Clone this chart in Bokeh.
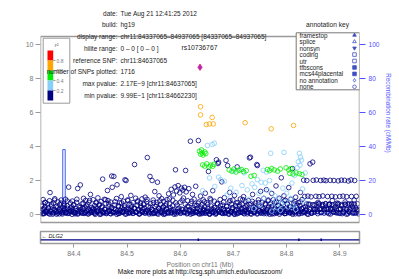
import math
from bokeh.plotting import figure
from bokeh.models import Range1d, LinearAxis, Label, FixedTicker
from bokeh.layouts import column
from bokeh.embed import file_html
from bokeh.resources import INLINE

# ---------------- data ----------------
X0, X1 = 84.337065, 84.937065
x_ticks = [84.4, 84.5, 84.6, 84.7, 84.8, 84.9]
y_ticks = [0, 2, 4, 6, 8, 10]
recomb_ticks = [0, 20, 40, 60, 80, 100]

navy_pos = [
    84.338, 84.339, 84.341, 84.342, 84.344, 84.345, 84.346, 84.348, 84.350, 84.351,
    84.352, 84.354, 84.355, 84.357, 84.358, 84.360, 84.361, 84.363, 84.364, 84.366,
    84.367, 84.369, 84.370, 84.372, 84.373, 84.375, 84.376, 84.378, 84.379, 84.381,
    84.382, 84.384, 84.385, 84.387, 84.388, 84.390, 84.391, 84.393, 84.394, 84.396,
    84.397, 84.399, 84.400, 84.402, 84.403, 84.405, 84.407, 84.408, 84.410, 84.412,
    84.413, 84.415, 84.416, 84.418, 84.419, 84.421, 84.422, 84.424, 84.425, 84.427,
    84.428, 84.430, 84.431, 84.433, 84.434, 84.436, 84.437, 84.439, 84.440, 84.442,
    84.443, 84.445, 84.446, 84.448, 84.449, 84.451, 84.452, 84.454, 84.455, 84.457,
    84.458, 84.460, 84.461, 84.463, 84.464, 84.466, 84.467, 84.469, 84.470, 84.471,
    84.472, 84.474, 84.475, 84.477, 84.478, 84.480, 84.481, 84.483, 84.484, 84.486,
    84.487, 84.489, 84.490, 84.492, 84.493, 84.495, 84.496, 84.498, 84.499, 84.501,
    84.502, 84.504, 84.505, 84.507, 84.508, 84.510, 84.511, 84.513, 84.514, 84.516,
    84.517, 84.519, 84.520, 84.522, 84.523, 84.525, 84.526, 84.528, 84.529, 84.531,
    84.532, 84.534, 84.535, 84.537, 84.538, 84.540, 84.541, 84.543, 84.544, 84.546,
    84.547, 84.549, 84.550, 84.552, 84.553, 84.555, 84.556, 84.557, 84.559, 84.560,
    84.562, 84.563, 84.565, 84.566, 84.568, 84.569, 84.571, 84.572, 84.574, 84.575,
    84.577, 84.578, 84.580, 84.581, 84.583, 84.584, 84.586, 84.587, 84.589, 84.590,
    84.591, 84.593, 84.594, 84.596, 84.597, 84.599, 84.600, 84.602, 84.603, 84.605,
    84.606, 84.608, 84.609, 84.610, 84.611, 84.613, 84.614, 84.616, 84.617, 84.619,
    84.620, 84.622, 84.623, 84.625, 84.626, 84.628, 84.629, 84.631, 84.632, 84.634,
    84.635, 84.637, 84.638, 84.640, 84.641, 84.643, 84.644, 84.646, 84.647, 84.649,
    84.650, 84.652, 84.653, 84.655, 84.656, 84.658, 84.659, 84.661, 84.662, 84.664,
    84.665, 84.667, 84.668, 84.670, 84.671, 84.672, 84.674, 84.675, 84.677, 84.678,
    84.680, 84.681, 84.683, 84.684, 84.686, 84.687, 84.689, 84.690, 84.692, 84.693,
    84.695, 84.696, 84.698, 84.699, 84.701, 84.702, 84.704, 84.705, 84.707, 84.708,
    84.710, 84.711, 84.713, 84.714, 84.716, 84.717, 84.719, 84.720, 84.722, 84.723,
    84.725, 84.726, 84.728, 84.729, 84.730, 84.732, 84.733, 84.735, 84.736, 84.738,
    84.739, 84.741, 84.742, 84.744, 84.745, 84.747, 84.748, 84.750, 84.751, 84.753,
    84.754, 84.756, 84.757, 84.759, 84.760, 84.762, 84.763, 84.765, 84.766, 84.768,
    84.769, 84.771, 84.772, 84.774, 84.775, 84.777, 84.778, 84.780, 84.781, 84.783,
    84.784, 84.786, 84.787, 84.789, 84.790, 84.792, 84.793, 84.795, 84.796, 84.798,
    84.799, 84.801, 84.802, 84.804, 84.805, 84.807, 84.808, 84.810, 84.811, 84.813,
    84.814, 84.816, 84.817, 84.819, 84.820, 84.822, 84.823, 84.825, 84.826, 84.828,
    84.829, 84.831, 84.832, 84.834, 84.835, 84.837, 84.838, 84.840, 84.841, 84.843,
    84.844, 84.846, 84.847, 84.849, 84.850, 84.852, 84.853, 84.855, 84.856, 84.858,
    84.859, 84.861, 84.862, 84.864, 84.865, 84.867, 84.868, 84.870, 84.871, 84.873,
    84.874, 84.876, 84.877, 84.879, 84.880, 84.882, 84.883, 84.885, 84.886, 84.888,
    84.889, 84.891, 84.892, 84.894, 84.895, 84.897, 84.898, 84.900, 84.901, 84.903,
    84.904, 84.906, 84.907, 84.909, 84.910, 84.912, 84.913, 84.915, 84.916, 84.918,
    84.919, 84.921, 84.922, 84.924, 84.925, 84.927, 84.928, 84.930, 84.931, 84.934,
]
navy_logp = [
    0.12, 0.55, 0.31, 0.88, 0.05, 0.42, 0.70, 0.21, 0.63, 0.09,
    0.37, 0.81, 1.29, 0.18, 0.50, 0.02, 0.66, 0.29, 0.93, 0.14,
    0.47, 0.08, 0.74, 0.33, 0.58, 0.19, 0.85, 0.03, 0.40, 0.61,
    0.25, 0.90, 0.11, 0.52, 0.36, 1.61, 0.07, 0.68, 0.22, 0.45,
    0.79, 0.16, 0.57, 0.04, 0.34, 0.71, 1.53, 0.27, 0.49, 1.74,
    0.13, 0.62, 0.38, 0.95, 0.06, 0.44, 0.83, 0.20, 0.59, 0.30,
    0.72, 0.10, 1.18, 0.41, 0.26, 0.87, 0.15, 0.53, 0.01, 0.67,
    0.35, 0.98, 0.23, 0.60, 0.09, 0.76, 0.43, 2.08, 0.17, 0.89,
    0.31, 0.64, 0.05, 1.41, 0.82, 0.48, 0.19, 0.73, 0.37, 2.26,
    1.60, 0.12, 2.24, 0.56, 0.28, 0.94, 1.75, 0.07, 0.46, 0.69,
    0.21, 1.05, 0.39, 0.14, 0.78, 0.52, 2.04, 2.00, 0.33, 0.86,
    0.08, 0.61, 0.27, 1.12, 0.44, 0.18, 0.70, 0.35, 2.94, 0.96,
    0.13, 0.54, 0.80, 0.29, 0.04, 0.67, 0.41, 0.92, 0.16, 0.58,
    0.36, 1.02, 0.22, 0.75, 3.35, 0.49, 0.10, 2.24, 0.63, 0.30,
    2.00, 0.85, 0.06, 1.35, 0.47, 0.19, 0.71, 1.90, 0.38, 1.10,
    0.26, 0.59, 0.93, 0.11, 0.44, 0.77, 0.03, 0.51, 0.34, 0.88,
    0.15, 1.22, 0.62, 0.40, 1.48, 0.24, 0.83, 1.15, 0.09, 1.62,
    2.63, 1.38, 0.55, 1.70, 0.18, 1.27, 0.72, 1.55, 0.31, 1.44,
    0.97, 1.60, 0.12, 2.59, 1.33, 0.46, 0.81, 1.52, 0.28, 4.31,
    0.65, 0.07, 1.18, 0.39, 0.90, 0.20, 1.66, 0.53, 0.14, 4.35,
    0.74, 0.32, 1.08, 0.05, 0.58, 0.86, 0.23, 0.45, 1.25, 0.11,
    0.69, 0.37, 2.53, 0.02, 0.94, 0.50, 0.17, 1.40, 0.29, 0.78,
    0.43, 0.08, 3.22, 0.61, 3.00, 3.08, 0.26, 0.88, 0.12, 1.92,
    0.55, 0.34, 0.99, 0.06, 3.18, 0.47, 2.88, 0.21, 0.73, 1.30,
    0.16, 0.62, 0.40, 0.85, 0.03, 1.12, 0.52, 0.27, 2.80, 0.70,
    0.09, 0.48, 0.91, 0.33, 0.60, 0.15, 1.05, 0.41, 0.24, 0.77,
    0.56, 0.04, 0.82, 0.30, 3.33, 3.37, 0.63, 0.19, 1.18, 0.45,
    0.10, 0.67, 0.38, 2.94, 2.88, 0.86, 0.22, 0.53, 1.36, 0.07,
    0.71, 0.35, 0.95, 0.14, 0.58, 1.46, 0.27, 0.80, 0.44, 0.02,
    0.61, 0.18, 1.24, 0.49, 0.87, 0.05, 0.33, 1.68, 0.72, 0.25,
    0.54, 0.96, 0.11, 0.42, 2.16, 0.68, 0.29, 1.10, 0.06, 0.83,
    0.37, 0.64, 0.20, 1.58, 0.47, 0.09, 0.90, 0.31, 2.70, 0.57,
    0.13, 0.76, 1.02, 0.40, 0.24, 0.69, 0.03, 0.52, 1.30, 0.35,
    0.88, 0.16, 2.02, 1.06, 0.45, 0.28, 2.00, 1.08, 0.61, 0.32,
    2.98, 1.04, 0.08, 3.08, 2.01, 0.55, 0.30, 1.07, 2.03, 0.19,
    0.71, 1.05, 0.33, 2.00, 0.12, 0.49, 1.09, 2.02, 0.27, 0.64,
    1.99, 0.31, 1.06, 0.05, 0.58, 2.01, 0.36, 1.07, 0.82, 0.15,
    2.00, 0.43, 1.04, 0.26, 0.67, 1.98, 0.09, 1.06, 0.35, 2.02,
    0.52, 1.08, 0.18, 2.01, 0.74, 0.30, 1.05, 0.04, 1.97, 0.61,
    0.27, 2.03, 1.06, 0.46, 0.13, 0.85, 2.00, 0.38, 1.07, 0.22,
]
navy_low_pos = [
    84.3385, 84.3405, 84.3435, 84.3465, 84.3495, 84.3525, 84.3555, 84.3585, 84.3615, 84.3645,
    84.3675, 84.3705, 84.3735, 84.3765, 84.3795, 84.3825, 84.3855, 84.3885, 84.3915, 84.3945,
    84.3975, 84.4005, 84.4035, 84.4065, 84.4095, 84.4125, 84.4155, 84.4185, 84.4215, 84.4245,
    84.4275, 84.4305, 84.4335, 84.4365, 84.4395, 84.4425, 84.4455, 84.4485, 84.4515, 84.4545,
    84.4575, 84.4605, 84.4635, 84.4665, 84.4695, 84.4725, 84.4755, 84.4785, 84.4815, 84.4845,
    84.4875, 84.4905, 84.4935, 84.4965, 84.4995, 84.5025, 84.5055, 84.5085, 84.5115, 84.5145,
    84.5175, 84.5205, 84.5235, 84.5265, 84.5295, 84.5325, 84.5355, 84.5385, 84.5415, 84.5445,
    84.5475, 84.5505, 84.5535, 84.5565, 84.5595, 84.5625, 84.5655, 84.5685, 84.5715, 84.5745,
    84.5775, 84.5805, 84.5835, 84.5865, 84.5895, 84.5925, 84.5955, 84.5985, 84.6015, 84.6045,
    84.6075, 84.6105, 84.6135, 84.6165, 84.6195, 84.6225, 84.6255, 84.6285, 84.6315, 84.6345,
    84.6375, 84.6405, 84.6435, 84.6465, 84.6495, 84.6525, 84.6555, 84.6585, 84.6615, 84.6645,
    84.6675, 84.6705, 84.6735, 84.6765, 84.6795, 84.6825, 84.6855, 84.6885, 84.6915, 84.6945,
    84.6975, 84.7005, 84.7035, 84.7065, 84.7095, 84.7125, 84.7155, 84.7185, 84.7215, 84.7245,
    84.7275, 84.7305, 84.7335, 84.7365, 84.7395, 84.7425, 84.7455, 84.7485, 84.7515, 84.7545,
    84.7575, 84.7605, 84.7635, 84.7665, 84.7695, 84.7725, 84.7755, 84.7785, 84.7815, 84.7845,
    84.7875, 84.7905, 84.7935, 84.7965, 84.7995, 84.8025, 84.8055, 84.8085, 84.8115, 84.8145,
    84.8175, 84.8205, 84.8235, 84.8265, 84.8295, 84.8325, 84.8355, 84.8385, 84.8415, 84.8445,
    84.8475, 84.8505, 84.8535, 84.8565, 84.8595, 84.8625, 84.8655, 84.8685, 84.8715, 84.8745,
    84.8775, 84.8805, 84.8835, 84.8865, 84.8895, 84.8925, 84.8955, 84.8985, 84.9015, 84.9045,
    84.9075, 84.9105, 84.9135, 84.9165, 84.9195, 84.9225, 84.9255, 84.9285, 84.9315, 84.9345,
]
navy_low_logp = [
    0.21, 0.04, 0.33, 0.15, 0.27, 0.08, 0.19, 0.30, 0.11, 0.24,
    0.02, 0.17, 0.29, 0.09, 0.22, 0.35, 0.13, 0.06, 0.26, 0.18,
    0.31, 0.10, 0.23, 0.03, 0.16, 0.28, 0.07, 0.34, 0.12, 0.20,
    0.05, 0.25, 0.14, 0.32, 0.09, 0.19, 0.27, 0.01, 0.22, 0.11,
    0.30, 0.08, 0.18, 0.26, 0.04, 0.15, 0.33, 0.12, 0.21, 0.06,
    0.24, 0.13, 0.29, 0.02, 0.17, 0.31, 0.10, 0.23, 0.07, 0.35,
    0.14, 0.27, 0.05, 0.20, 0.32, 0.09, 0.18, 0.25, 0.03, 0.16,
    0.28, 0.11, 0.22, 0.06, 0.34, 0.15, 0.26, 0.01, 0.19, 0.30,
    0.07, 0.24, 0.13, 0.29, 0.18, 0.04, 0.33, 0.21, 0.10, 0.27,
    0.16, 0.31, 0.08, 0.23, 0.02, 0.19, 0.28, 0.12, 0.35, 0.05,
    0.22, 0.14, 0.30, 0.07, 0.25, 0.17, 0.03, 0.32, 0.11, 0.20,
    0.09, 0.27, 0.18, 0.34, 0.06, 0.23, 0.13, 0.29, 0.01, 0.16,
    0.31, 0.10, 0.21, 0.04, 0.26, 0.15, 0.33, 0.08, 0.19, 0.28,
    0.12, 0.24, 0.02, 0.30, 0.17, 0.35, 0.07, 0.22, 0.14, 0.27,
    0.05, 0.19, 0.29, 0.11, 0.24, 0.03, 0.32, 0.16, 0.09, 0.21,
    0.26, 0.13, 0.34, 0.06, 0.18, 0.28, 0.10, 0.23, 0.01, 0.31,
    0.15, 0.30, 0.07, 0.20, 0.33, 0.12, 0.25, 0.04, 0.18, 0.29,
    0.08, 0.31, 0.30, 0.29, 0.62, 0.30, 0.31, 0.58, 0.30, 0.32,
    0.30, 0.61, 0.29, 0.32, 0.30, 0.12, 0.59, 0.29, 0.30, 0.05,
    0.31, 0.60, 0.30, 0.18, 0.32, 0.63, 0.31, 0.08, 0.29, 0.30,
]
navy_mid_pos = [
    84.3395, 84.3455, 84.3515, 84.3575, 84.3635, 84.3695, 84.3755, 84.3815, 84.3875, 84.3935,
    84.3995, 84.4055, 84.4115, 84.4175, 84.4235, 84.4295, 84.4355, 84.4415, 84.4475, 84.4535,
    84.4595, 84.4655, 84.4715, 84.4775, 84.4835, 84.4895, 84.4955, 84.5015, 84.5075, 84.5135,
    84.5195, 84.5255, 84.5315, 84.5375, 84.5435, 84.5495, 84.5555, 84.5615, 84.5675, 84.5735,
    84.5795, 84.5855, 84.5915, 84.5975, 84.6035, 84.6095, 84.6155, 84.6215, 84.6275, 84.6335,
    84.6395, 84.6455, 84.6515, 84.6575, 84.6635, 84.6695, 84.6755, 84.6815, 84.6875, 84.6935,
    84.6995, 84.7055, 84.7115, 84.7175, 84.7235, 84.7295, 84.7355, 84.7415, 84.7475, 84.7535,
    84.7595, 84.7655, 84.7715, 84.7775, 84.7835, 84.7895, 84.7955, 84.8015, 84.8075, 84.8135,
    84.8195, 84.8255, 84.8315, 84.8375, 84.8435, 84.8495, 84.8555, 84.8615, 84.8675, 84.8735,
    84.8795, 84.8855, 84.8915, 84.8975, 84.9035, 84.9095, 84.9155, 84.9215, 84.9275, 84.9335,
]
navy_mid_logp = [
    0.48, 0.72, 0.39, 0.61, 0.85, 0.44, 0.67, 0.53, 0.79, 0.36,
    0.58, 0.90, 0.41, 0.66, 0.50, 0.83, 0.38, 0.71, 0.55, 0.46,
    0.87, 0.62, 0.40, 0.76, 0.52, 0.68, 0.43, 0.81, 0.57, 0.37,
    0.74, 0.49, 0.64, 0.89, 0.42, 0.70, 0.56, 0.80, 0.45, 0.63,
    0.92, 0.51, 0.69, 0.38, 0.84, 0.60, 0.47, 0.78, 0.54, 0.66,
    0.43, 0.75, 0.59, 0.86, 0.40, 0.65, 0.52, 0.73, 0.48, 0.82,
    0.39, 0.68, 0.57, 0.88, 0.45, 0.61, 0.77, 0.50, 0.70, 0.42,
    0.64, 0.85, 0.47, 0.72, 0.55, 0.38, 0.80, 0.60, 0.46, 0.67,
    0.53, 0.74, 0.41, 0.62, 0.60, 0.58, 0.61, 0.63, 0.59, 0.62,
    0.60, 0.57, 0.61, 0.64, 0.58, 0.60, 0.62, 0.59, 0.61, 0.63,
]
navy_bot_pos = [
    84.3425, 84.3485, 84.3545, 84.3605, 84.3665, 84.3725, 84.3785, 84.3845, 84.3905, 84.3965,
    84.4025, 84.4085, 84.4145, 84.4205, 84.4265, 84.4325, 84.4385, 84.4445, 84.4505, 84.4565,
    84.4625, 84.4685, 84.4745, 84.4805, 84.4865, 84.4925, 84.4985, 84.5045, 84.5105, 84.5165,
    84.5225, 84.5285, 84.5345, 84.5405, 84.5465, 84.5525, 84.5585, 84.5645, 84.5705, 84.5765,
    84.5825, 84.5885, 84.5945, 84.6005, 84.6065, 84.6125, 84.6185, 84.6245, 84.6305, 84.6365,
    84.6425, 84.6485, 84.6545, 84.6605, 84.6665, 84.6725, 84.6785, 84.6845, 84.6905, 84.6965,
    84.7025, 84.7085, 84.7145, 84.7205, 84.7265, 84.7325, 84.7385, 84.7445, 84.7505, 84.7565,
    84.7625, 84.7685, 84.7745, 84.7805, 84.7865, 84.7925, 84.7985, 84.8045, 84.8105, 84.8165,
    84.8225, 84.8285, 84.8345, 84.8405, 84.8465, 84.8525, 84.8585, 84.8645, 84.8705, 84.8765,
    84.8825, 84.8885, 84.8945, 84.9005, 84.9065, 84.9125, 84.9185, 84.9245, 84.9305, 84.9355,
]
navy_bot_logp = [
    0.06, 0.14, 0.02, 0.10, 0.17, 0.04, 0.12, 0.08, 0.15, 0.01,
    0.11, 0.05, 0.16, 0.09, 0.03, 0.13, 0.07, 0.18, 0.02, 0.10,
    0.14, 0.06, 0.12, 0.01, 0.09, 0.16, 0.04, 0.11, 0.07, 0.15,
    0.03, 0.13, 0.08, 0.17, 0.05, 0.10, 0.02, 0.14, 0.06, 0.12,
    0.09, 0.01, 0.15, 0.07, 0.11, 0.04, 0.16, 0.08, 0.13, 0.03,
    0.10, 0.17, 0.05, 0.12, 0.02, 0.14, 0.08, 0.11, 0.06, 0.15,
    0.01, 0.09, 0.13, 0.04, 0.16, 0.07, 0.12, 0.03, 0.10, 0.18,
    0.05, 0.14, 0.08, 0.11, 0.02, 0.15, 0.06, 0.13, 0.09, 0.04,
    0.16, 0.07, 0.12, 0.01, 0.10, 0.14, 0.05, 0.11, 0.08, 0.13,
    0.03, 0.15, 0.09, 0.06, 0.12, 0.02, 0.14, 0.07, 0.10, 0.04,
]
lblue_pos = [
    84.651, 84.660, 84.664, 84.770, 84.795, 84.824, 84.826, 84.822, 84.825, 84.820,
    84.828, 84.756, 84.762, 84.700, 84.712, 84.720, 84.672, 84.676, 84.683, 84.745,
    84.752, 84.760, 84.768, 84.735, 84.740, 84.726, 84.716, 84.705, 84.695, 84.688,
    84.748, 84.757, 84.765, 84.778, 84.785, 84.790, 84.797, 84.803, 84.808, 84.812,
    84.817, 84.782, 84.775, 84.800, 84.793, 84.810, 84.815, 84.830, 84.835, 84.832,
    84.788, 84.772, 84.642, 84.655, 84.665, 84.730, 84.738, 84.750,
]
lblue_logp = [
    4.06, 4.12, 4.19, 3.60, 3.65, 3.60, 3.37, 3.10, 2.90, 2.75,
    3.20, 2.60, 2.50, 2.55, 2.62, 2.45, 2.20, 2.05, 1.95, 2.05,
    1.90, 1.85, 2.00, 1.80, 1.60, 1.45, 1.70, 1.30, 1.55, 1.15,
    1.25, 0.95, 1.40, 1.10, 0.85, 0.60, 0.75, 0.45, 0.95, 0.55,
    0.30, 0.40, 0.70, 1.25, 1.55, 1.85, 2.30, 1.50, 2.45, 0.80,
    0.25, 0.20, 1.40, 2.15, 1.65, 0.90, 0.35, 0.55,
]
green_pos = [
    84.636, 84.638, 84.641, 84.643, 84.646, 84.640, 84.648, 84.642, 84.646, 84.650,
    84.654, 84.657, 84.661, 84.663, 84.692, 84.697, 84.701, 84.705, 84.710, 84.715,
    84.719, 84.724, 84.733, 84.739, 84.764, 84.768, 84.772, 84.777, 84.783, 84.788,
    84.799, 84.804, 84.808, 84.806, 84.812, 84.818, 84.824, 84.829,
]
green_logp = [
    3.72, 3.55, 3.62, 3.50, 3.68, 3.80, 3.58, 2.92, 2.85, 2.98,
    2.80, 2.90, 2.84, 2.95, 2.62, 2.55, 2.68, 2.50, 2.60, 2.65,
    2.52, 2.58, 2.25, 2.30, 2.65, 2.58, 2.70, 2.62, 2.55, 2.68,
    2.75, 2.62, 2.70, 2.42, 2.38, 2.45, 2.40, 2.35,
]
orange_pos = [84.638, 84.638, 84.660, 84.649, 84.655, 84.662, 84.722, 84.771, 84.813]
orange_logp = [6.34, 5.86, 5.71, 5.29, 5.33, 5.33, 5.40, 5.04, 5.24]

ref_pos = [84.637065]
ref_logp = [8.66]

recomb_pos = [84.337, 84.360, 84.3788, 84.3790, 84.3835, 84.3837, 84.42, 84.48, 84.55, 84.63,
              84.70, 84.78, 84.85, 84.937]
recomb_rate = [0.4, 0.6, 0.5, 38.2, 38.2, 0.5, 0.3, 0.6, 0.2, 0.5, 0.3, 0.8, 0.4, 0.3]

exon_pos = [84.634, 84.823, 84.865]

r2_colors = ["#FF0000", "#FFA500", "#00EE00", "#87CEFA", "#000080"]
r2_labels = ["0.8", "0.6", "0.4", "0.2"]

info_keys = ["date:", "build:", "display range:", "hilite range:", "reference SNP:",
             "number of SNPs plotted:", "max pvalue:", "min pvalue:"]
info_vals = ["Tue Aug 21 12:41:25 2012", "hg19",
             "chr11:84337065\u201384937065 [84337065\u201384937065]",
             "0 \u2013 0  [ 0 \u2013 0 ]", "chr11:84637065", "1716",
             "2.17E\u22129 [chr11:84637065]", "9.99E\u22121 [chr11:84662230]"]

annot_labels = ["framestop", "splice", "nonsyn", "coding", "utr", "tfbscons",
                "mcs44placental", "no annotation", "none"]
annot_markers = ["triangle", "triangle", "inverted_triangle", "square", "square",
                 "square", "square", "diamond", "circle"]
annot_filled = [True, False, True, False, False, True, True, False, False]

# ---------------- layout helpers (page px -> data) ----------------
FONT = "Liberation Sans"
GRAY = "#9a9a9a"
BLUE = "#5252ff"
PX_PER_UNIT = 17.0
Y_ZERO_PX = 214.0
FRAME_H = 225.0
Y1 = Y_ZERO_PX / PX_PER_UNIT
Y0 = (Y_ZERO_PX - FRAME_H) / PX_PER_UNIT


def dx(X):
    return X0 + (X - 40) * (X1 - X0) / 319.0


def dy(Y):
    return (Y_ZERO_PX - Y) / PX_PER_UNIT


def dy2(Y):
    return (243 - Y) / 12.0


# ---------------- main panel ----------------
p1 = figure(width=399, height=226, x_range=Range1d(X0, X1), y_range=Range1d(Y0, Y1),
            output_backend="svg", toolbar_location=None, x_axis_location=None,
            min_border_left=40, min_border_right=40, min_border_top=0, min_border_bottom=1)
p1.grid.visible = False
p1.outline_line_color = None
p1.background_fill_color = "white"

ya = p1.yaxis[0]
ya.ticker = FixedTicker(ticks=y_ticks)
ya.axis_line_color = None
ya.major_tick_line_color = GRAY
ya.major_tick_out = 5
ya.major_tick_in = 0
ya.minor_tick_line_color = None
ya.major_label_text_font = FONT
ya.major_label_text_font_size = "7px"
ya.major_label_text_color = "#777777"
ya.major_label_standoff = 2

p1.extra_y_ranges = {"recomb": Range1d(Y0 * 10, Y1 * 10)}
ra = LinearAxis(y_range_name="recomb", ticker=FixedTicker(ticks=recomb_ticks))
ra.axis_line_color = None
ra.major_tick_line_color = BLUE
ra.major_tick_out = 6
ra.major_tick_in = 0
ra.minor_tick_line_color = None
ra.major_label_text_font = FONT
ra.major_label_text_font_size = "6.6px"
ra.major_label_text_color = BLUE
ra.major_label_standoff = 3
ra.axis_label = "Recombination rate (cM/Mb)"
ra.axis_label_text_font = FONT
ra.axis_label_text_font_size = "6.3px"
ra.axis_label_text_font_style = "normal"
ra.axis_label_text_color = BLUE
ra.axis_label_standoff = 2
p1.add_layout(ra, "right")

# recombination line
p1.line(recomb_pos, recomb_rate, y_range_name="recomb", line_color="#3b5cff", line_width=1)

mk = dict(marker="circle", size=4.6, fill_color=None, line_width=0.8)
p1.scatter(navy_bot_pos, navy_bot_logp, line_color="#000080", **mk)
p1.scatter(navy_low_pos, navy_low_logp, line_color="#000080", **mk)
p1.scatter(navy_mid_pos, navy_mid_logp, line_color="#000080", **mk)
p1.scatter(navy_pos, navy_logp, line_color="#000080", **mk)
p1.scatter(lblue_pos, lblue_logp, line_color="#87CEFA", **mk)
p1.scatter(green_pos, green_logp, line_color="#00EE00", **mk)
p1.scatter(orange_pos, orange_logp, line_color="#FFA500", **mk)
p1.scatter(ref_pos, ref_logp, marker="diamond", size=6.5, fill_color="#9b30d0",
           line_color="#ff2060", line_width=0.8)

# panel border
p1.quad(left=X0, right=X1, top=dy(36), bottom=dy(222), fill_color=None,
        line_color=GRAY, line_width=1.5)

# r^2 legend
p1.quad(left=dx(42.7), right=dx(69.3), top=dy(37.7), bottom=dy(102.7),
        fill_color="white", line_color=GRAY, line_width=1)
for i, c in enumerate(r2_colors):
    p1.quad(left=dx(47), right=dx(52.7), top=dy(50 + 10 * i), bottom=dy(60 + 10 * i),
            fill_color=c, line_color=None)
for i, t in enumerate(r2_labels):
    yy = dy(60 + 10 * i)
    p1.segment(x0=dx(52.7), x1=dx(55), y0=yy, y1=yy, line_color="#777777", line_width=0.7)
    p1.add_layout(Label(x=dx(56), y=yy, text=t, text_font=FONT, text_font_size="5px",
                        text_color="#777777", text_baseline="middle", text_align="left"))
p1.add_layout(Label(x=dx(56), y=dy(44), text="r\u00b2", text_font=FONT, text_font_size="5.5px",
                    text_font_style="italic", text_color="#555555",
                    text_baseline="middle", text_align="center"))

# info text block
for i, (k, v) in enumerate(zip(info_keys, info_vals)):
    yy = dy(12.7 + 11.75 * i)
    p1.add_layout(Label(x=dx(117), y=yy, text=k, text_font=FONT, text_font_size="6.5px",
                        text_color="#222222", text_align="right", text_baseline="middle"))
    p1.add_layout(Label(x=dx(120), y=yy, text=v, text_font=FONT, text_font_size="6.5px",
                        text_color="#222222", text_align="left", text_baseline="middle"))

p1.add_layout(Label(x=dx(199), y=dy(47), text="rs10736767", text_font=FONT,
                    text_font_size="6.8px", text_color="#222222",
                    text_align="center", text_baseline="middle"))

# annotation key
p1.add_layout(Label(x=dx(327), y=dy(24.3), text="annotation key", text_font=FONT,
                    text_font_size="6.6px", text_color="#222222",
                    text_align="center", text_baseline="middle"))
p1.quad(left=dx(295.7), right=dx(359.3), top=dy(32.3), bottom=dy(89.3),
        fill_color="white", line_color="#777777", line_width=1)
for i, (t, m, f) in enumerate(zip(annot_labels, annot_markers, annot_filled)):
    yy = dy(34.7 + 6.45 * i)
    p1.add_layout(Label(x=dx(299), y=yy, text=t, text_font=FONT, text_font_size="6.3px",
                        text_color="#222222", text_align="left", text_baseline="middle"))
    p1.scatter([dx(354)], [yy], marker=m, size=3.6,
               fill_color="#4050c0" if f else None, line_color="#4050c0", line_width=0.8)

# ---------------- gene panel ----------------
p2 = figure(width=399, height=53, x_range=p1.x_range, y_range=Range1d(0, 1),
            output_backend="svg", toolbar_location=None, y_axis_location=None,
            min_border_left=40, min_border_right=40, min_border_top=5, min_border_bottom=36)
p2.grid.visible = False
p2.outline_line_color = GRAY
p2.outline_line_width = 1.5

xa = p2.xaxis[0]
xa.ticker = FixedTicker(ticks=x_ticks)
xa.axis_line_color = None
xa.major_tick_line_color = GRAY
xa.major_tick_out = 4
xa.major_tick_in = 0
xa.minor_tick_line_color = None
xa.major_label_text_font = FONT
xa.major_label_text_font_size = "7px"
xa.major_label_text_color = "#777777"
xa.major_label_standoff = 3
xa.axis_label = "Position on chr11 (Mb)"
xa.axis_label_text_font = FONT
xa.axis_label_text_font_size = "6.7px"
xa.axis_label_text_font_style = "normal"
xa.axis_label_text_color = "#777777"
xa.axis_label_standoff = 2

xb = LinearAxis(ticker=FixedTicker(ticks=[]))
xb.axis_line_color = None
xb.major_tick_line_color = None
xb.minor_tick_line_color = None
xb.major_label_text_font_size = "0px"
xb.axis_label = "Make more plots at http://csg.sph.umich.edu/locuszoom/"
xb.axis_label_text_font = FONT
xb.axis_label_text_font_size = "6.6px"
xb.axis_label_text_font_style = "normal"
xb.axis_label_text_color = "#111111"
xb.axis_label_standoff = -3
p2.add_layout(xb, "below")

p2.segment(x0=X0, x1=X1, y0=dy2(239.3), y1=dy2(239.3), line_color="#000080", line_width=1.3)
p2.segment(x0=exon_pos, x1=exon_pos, y0=dy2(240.5), y1=dy2(238), line_color="#000080",
           line_width=1.5)
p2.add_layout(Label(x=dx(41), y=dy2(235), text="\u2190 DLG2", text_font=FONT,
                    text_font_size="5.5px", text_font_style="italic", text_color="#222222",
                    text_align="left", text_baseline="middle"))

layout = column(p1, p2, spacing=0)
open("out.html", "w").write(file_html(layout, INLINE))
